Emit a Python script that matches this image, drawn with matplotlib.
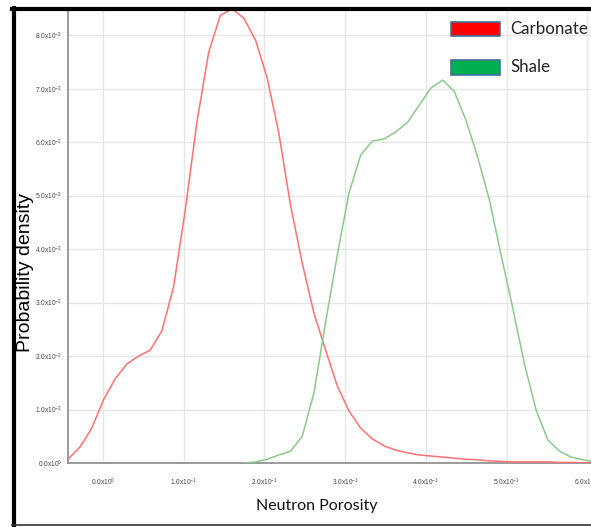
import matplotlib
matplotlib.use("Agg")
import matplotlib.pyplot as plt
from matplotlib.patches import Rectangle
from matplotlib.lines import Line2D

plt.rcParams['mathtext.fontset'] = 'custom'
plt.rcParams['mathtext.rm'] = 'Liberation Sans'
plt.rcParams['mathtext.it'] = 'Liberation Sans:italic'
plt.rcParams['mathtext.bf'] = 'Liberation Sans:bold'
plt.rcParams['font.family'] = ['Liberation Sans', 'DejaVu Sans']

# ---- data ----
x_grid = [-0.0426, -0.0281, -0.0136, 0.0009, 0.0153, 0.0298, 0.0443, 0.0588, 0.0732, 0.0877,
          0.1022, 0.1167, 0.1312, 0.1456, 0.1601, 0.1746, 0.1891, 0.2036, 0.2180, 0.2325,
          0.2470, 0.2615, 0.2760, 0.2904, 0.3049, 0.3194, 0.3339, 0.3484, 0.3628, 0.3773,
          0.3918, 0.4063, 0.4208, 0.4352, 0.4497, 0.4642, 0.4787, 0.4932, 0.5076, 0.5221,
          0.5366, 0.5511, 0.5656, 0.5800, 0.5945, 0.6090]

carbonate = [0.00075, 0.0030, 0.0065, 0.0118, 0.0157, 0.0185, 0.0200, 0.0211, 0.0247, 0.0329,
             0.0473, 0.0638, 0.0768, 0.0837, 0.0849, 0.0832, 0.0791, 0.0720, 0.0617, 0.0482,
             0.0374, 0.0280, 0.0211, 0.0144, 0.0097, 0.0065, 0.0045, 0.0032, 0.0024, 0.0019,
             0.0015, 0.0013, 0.0011, 0.0009, 0.0007, 0.0006, 0.0004, 0.0003, 0.0002, 0.0002,
             0.0002, 0.0002, 0.0001, 0.0001, 0.00005, 0.0]

shale_start = 15
shale = [0.0, 0.0002, 0.0007, 0.0015, 0.0022, 0.0050, 0.0131, 0.0264, 0.0389, 0.0505,
         0.0576, 0.0602, 0.0606, 0.0619, 0.0637, 0.0669, 0.0701, 0.0716, 0.0695, 0.0641,
         0.0572, 0.0492, 0.0389, 0.0290, 0.0185, 0.0099, 0.0043, 0.0022, 0.0011, 0.0006, 0.0002]

x_ticks = [0.0, 0.1, 0.2, 0.3, 0.4, 0.5, 0.6]
x_ticklabels = [r'0.0x10$^{0}$', r'1.0x10$^{-1}$', r'2.0x10$^{-1}$', r'3.0x10$^{-1}$',
                r'4.0x10$^{-1}$', r'5.0x10$^{-1}$', r'6.0x10$^{-1}$']
y_ticks = [0.0, 0.01, 0.02, 0.03, 0.04, 0.05, 0.06, 0.07, 0.08]
y_ticklabels = [r'0.0x10$^{0}$', r'1.0x10$^{-2}$', r'2.0x10$^{-2}$', r'3.0x10$^{-2}$',
                r'4.0x10$^{-2}$', r'5.0x10$^{-2}$', r'6.0x10$^{-2}$', r'7.0x10$^{-2}$',
                r'8.0x10$^{-2}$']
series_names = ['Carbonate', 'Shale']

W, H = 591, 527
fig = plt.figure(figsize=(W / 100, H / 100), dpi=100)

def fx(px):
    return px / W

def fy(py):
    return 1 - py / H

ax = fig.add_axes([fx(68), fy(463), fx(591) - fx(68), fy(10) - fy(463)])
ax.set_xlim(-0.043, 0.6045)
ax.set_ylim(0, 0.0847)

ax.plot(x_grid, carbonate, color='#ff7070', lw=1.1, zorder=3)
ax.plot(x_grid[shale_start:], shale, color='#8cc98c', lw=1.1, zorder=3)

ax.set_xticks(x_ticks)
ax.set_xticklabels(x_ticklabels)
ax.set_yticks(y_ticks)
ax.set_yticklabels(y_ticklabels)
ax.tick_params(axis='both', length=0, labelsize=4.8, labelcolor='#444444')
ax.tick_params(axis='x', pad=10)
ax.tick_params(axis='y', pad=4)
ax.grid(True, color='#e6e6e6', lw=1.0)
ax.set_axisbelow(True)
for s in ['top', 'right']:
    ax.spines[s].set_visible(False)
for s in ['left', 'bottom']:
    ax.spines[s].set_color('#8a8a8a')
    ax.spines[s].set_linewidth(1.2)

fig.text(fx(26), fy(272), 'Probability density', rotation=90, ha='center', va='center',
         fontsize=14, family='Liberation Sans', color='black')
fig.text(fx(317), fy(506), 'Neutron Porosity', ha='center', va='center',
         fontsize=11.5, family='Lato', color='#111111')

# legend
leg_colors = ['#ff0000', '#00b050']
leg_y = [29, 67.5]
for name, c, yc in zip(series_names, leg_colors, leg_y):
    fig.add_artist(Rectangle((fx(451), fy(yc + 7)), fx(49), 14 / H, facecolor=c,
                             edgecolor='#41719c', lw=1.2, transform=fig.transFigure))
    fig.text(fx(510), fy(yc), name, ha='left', va='center', fontsize=12.2,
             family='Lato', color='#222222')

# frame border (screenshot edges)
fig.add_artist(Line2D([fx(13.5), fx(13.5)], [fy(8), fy(525)], color='black', lw=3,
                      transform=fig.transFigure))
fig.add_artist(Line2D([fx(12), 1.0], [fy(9), fy(9)], color='black', lw=3,
                      transform=fig.transFigure))
fig.add_artist(Line2D([fx(12), 1.0], [fy(525), fy(525)], color='#333333', lw=1.2,
                      transform=fig.transFigure))

fig.savefig('out.png', dpi=100)
